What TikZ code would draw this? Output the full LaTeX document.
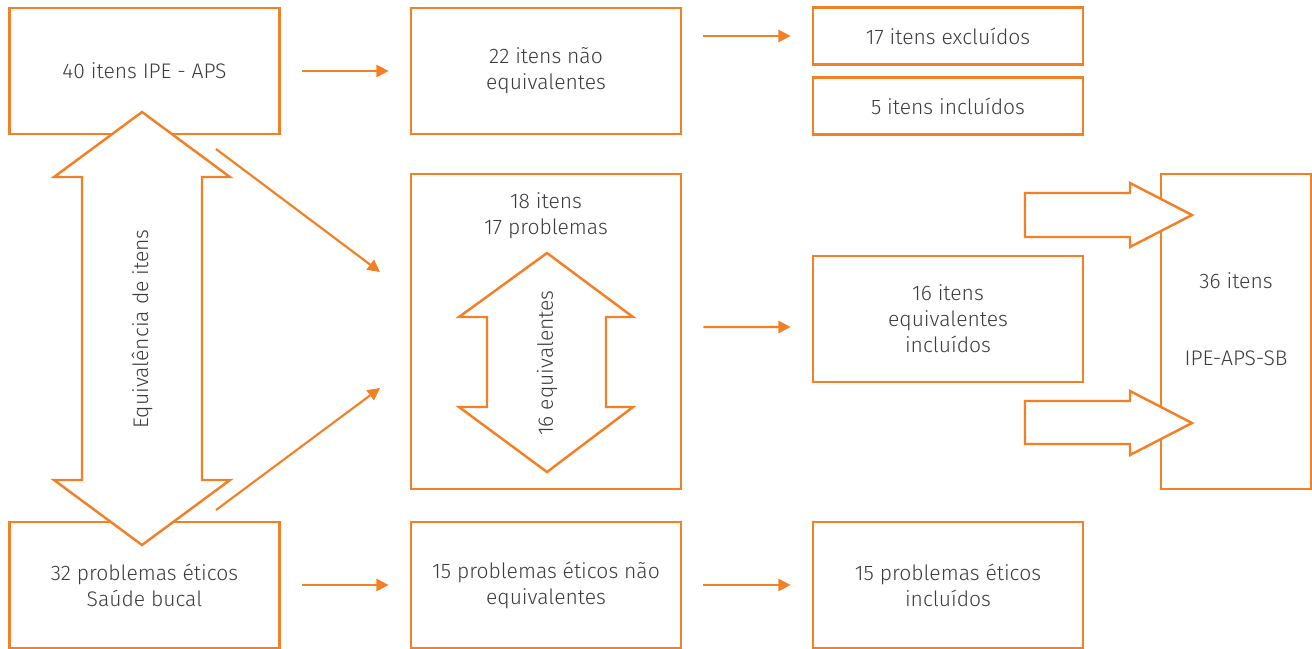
\documentclass[tikz,border=0pt]{standalone}
\usepackage{fontspec}
\setmainfont{Fira Sans}[UprightFont=* Light]
\usetikzlibrary{arrows.meta}
\definecolor{laranja}{RGB}{244,128,38}
\definecolor{texto}{RGB}{60,60,60}
\begin{document}
\begin{tikzpicture}[x=0.02cm,y=-0.02cm,
    caixa/.style={draw=laranja, line width=1.6pt, minimum width=5.4cm, inner sep=0pt,
      text=texto, align=center, font=\fontsize{12}{14.7}\selectfont},
    rotulo/.style={text=texto, align=center, inner sep=0pt, font=\fontsize{12}{14.7}\selectfont},
    seta/.style={draw=laranja, line width=1.2pt, -{Triangle[length=7pt,width=7pt]},
      shorten <=0.42cm, shorten >=0.42cm},
    bloco/.style={draw=laranja, line width=1.4pt, fill=white, line join=miter}]
        \useasboundingbox (0,0) rectangle (1312,649);

        % linha de cima
        \node[caixa, minimum height=2.52cm] (ipe) at (144.5,71) {40 itens IPE - APS};
        \node[caixa, minimum height=2.52cm] (naoeq) at (546,71) {22 itens não\\equivalentes};
        \node[caixa, minimum height=1.14cm] (excl) at (948,36) {17 itens excluídos};
        \node[caixa, minimum height=1.14cm] (incl5) at (948,106) {5 itens incluídos};

        % meio
        \node[caixa, minimum height=6.3cm] (eq) at (546,331.5) {};
        \node[rotulo] (eqtxt) at (546,216) {18 itens\\17 problemas};
        \node[caixa, minimum height=2.52cm] (inc16) at (948,319) {16 itens\\equivalentes\\incluídos};
        \node[caixa, minimum width=3cm, minimum height=6.3cm] (sb) at (1236,331.5) {};
        \node[rotulo] (sbtop) at (1236,281) {36 itens};
        \node[rotulo] (sbbot) at (1236,358) {IPE-APS-SB};

        % linha de baixo
        \node[caixa, minimum height=2.52cm] (bucal) at (144.5,585) {32 problemas éticos\\Saúde bucal};
        \node[caixa, minimum height=2.52cm] (pnaoeq) at (546,585) {15 problemas éticos não\\equivalentes};
        \node[caixa, minimum height=2.52cm] (pincl) at (948,585) {15 problemas éticos\\incluídos};

        % setas
        \draw[seta] (ipe) -- (naoeq);
        \draw[seta] (naoeq.east |- excl.west) -- (excl.west);
        \draw[seta] ([yshift=0.09cm]eq.east) -- ([yshift=-0.16cm]inc16.west);
        \draw[seta] (bucal) -- (pnaoeq);
        \draw[seta] (pnaoeq) -- (pincl);

        \coordinate (d1a) at (216,149);
        \coordinate (d1b) at (380,272);
        \coordinate (d2a) at (216,510);
        \coordinate (d2b) at (380,388);
        \draw[seta, shorten <=0pt, shorten >=0pt] (d1a) -- (d1b);
        \draw[seta, shorten <=0pt, shorten >=0pt] (d2a) -- (d2b);

        % setas grandes
        \draw[bloco] (142,112) -- (230,177) -- (202,177) -- (202,480) -- (230,480) -- (142,545)
          -- (54,480) -- (82,480) -- (82,177) -- (54,177) -- cycle;
        \node[rotulo, rotate=90] (equiv) at (142,329) {Equivalência de itens};

        \draw[bloco] (547,253) -- (633,317) -- (606,317) -- (606,407) -- (633,407) -- (547,472)
          -- (459,407) -- (487,407) -- (487,317) -- (459,317) -- cycle;
        \node[rotulo, rotate=90] (eq16) at (547,363) {16 equivalentes};

        \draw[bloco] (1025,193) -- (1130,193) -- (1130,183) -- (1192,215) -- (1130,247) -- (1130,237) -- (1025,237) -- cycle;
        \draw[bloco] (1025,401) -- (1130,401) -- (1130,391) -- (1192,423) -- (1130,455) -- (1130,444) -- (1025,444) -- cycle;
    \end{tikzpicture}
\end{document}
